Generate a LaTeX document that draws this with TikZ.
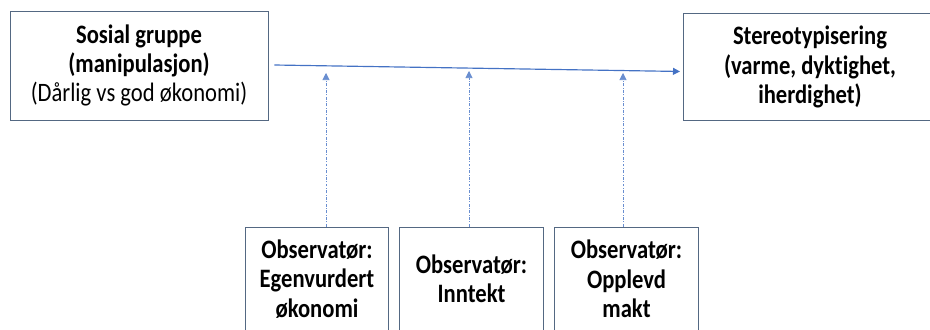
\documentclass[tikz,border=0pt]{standalone}
\usepackage{fontspec}
\setmainfont{Carlito}[FakeStretch=0.85, Ligatures=NoCommon]
\usepackage{xcolor}
\usetikzlibrary{positioning, arrows.meta}
\definecolor{rammeColor}{RGB}{84, 104, 130}
\definecolor{pilColor}{RGB}{68, 114, 196}

\begin{document}
\begin{tikzpicture}[
    x=0.03cm, y=-0.03cm,
    boks/.style={
        rectangle,
        draw=rammeColor,
        line width=0.8pt,
        align=center,
        inner sep=0pt,
        font=\fontsize{22.7}{25}\selectfont\bfseries
    },
    observator/.style={
        boks,
        minimum width=4.3cm,
        minimum height=3.12cm
    },
    hovedpil/.style={
        -{Triangle[length=6pt, width=6pt]},
        draw=pilColor,
        line width=1pt
    },
    obspil/.style={
        -{Triangle[length=6pt, width=6pt]},
        draw=pilColor!80,
        line width=0.5pt,
        dash pattern=on 2.5pt off 1.2pt on 0.8pt off 1.2pt
    }
]

\useasboundingbox (0,0) rectangle (930,329);

\node[boks, minimum width=7.74cm, minimum height=3.27cm] (kilde) at (139,65.5)
    {Sosial gruppe\\(manipulasjon)\\\mdseries (Dårlig vs god økonomi)};
\node[boks, anchor=north west, minimum width=7.86cm, minimum height=3.21cm] (mal) at (683,13) {};
\node[boks, draw=none] (maltekst) at (810,67) {Stereotypisering\\(varme, dyktighet,\\iherdighet)};

\node[observator] (obs1) at (317,279) {Observatør:\\Egenvurdert\\økonomi};
\node[observator] (obs2) at (471.5,279) {Observatør:\\Inntekt};
\node[observator] (obs3) at (626.5,279) {Observatør:\\Opplevd\\makt};

\coordinate (spiss1) at (326,73);
\coordinate (spiss2) at (469,71);
\coordinate (spiss3) at (623,73);

\draw[hovedpil] ([shift={(6,-0.5)}]kilde.east) -- ([shift={(-3,4.5)}]mal.west);
\draw[obspil] (spiss1 |- obs1.north) -- (spiss1);
\draw[obspil] (spiss2 |- obs2.north) -- (spiss2);
\draw[obspil] (spiss3 |- obs3.north) -- (spiss3);

\end{tikzpicture}
\end{document}
